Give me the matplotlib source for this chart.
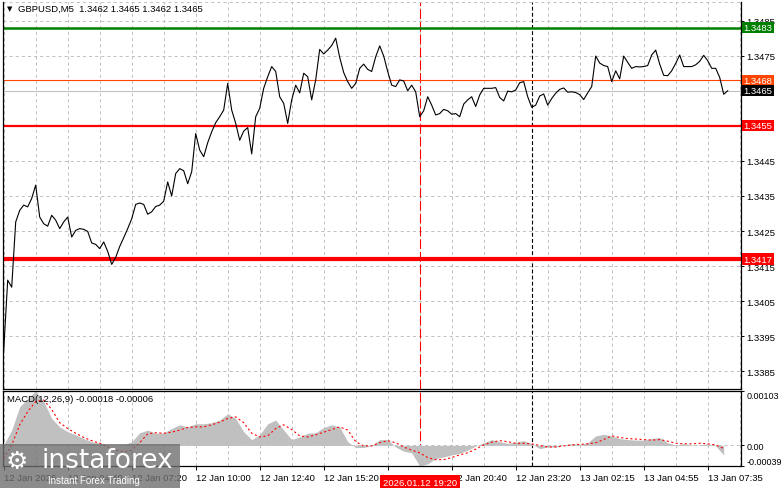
import numpy as np
import matplotlib
matplotlib.use("Agg")
import matplotlib.pyplot as plt
import matplotlib.transforms as mtransforms

plt.rcParams["font.family"] = ["Liberation Sans", "DejaVu Sans"]
plt.rcParams["lines.scale_dashes"] = False

symbol_title = "GBPUSD,M5  1.3462 1.3465 1.3462 1.3465"
macd_title = "MACD(12,26,9) -0.00018 -0.00006"

# closes, one every 10 minutes starting 12 Jan 02:00 (two M5 bars per value)
close = [
    1.33910, 1.34110, 1.34090, 1.34276, 1.34309, 1.34324, 1.34319, 1.34343, 1.34381, 1.34290,
    1.34271, 1.34264, 1.34295, 1.34281, 1.34257, 1.34276, 1.34290, 1.34233, 1.34252, 1.34257,
    1.34255, 1.34249, 1.34216, 1.34212, 1.34200, 1.34219, 1.34192, 1.34155, 1.34175, 1.34206,
    1.34231, 1.34257, 1.34285, 1.34326, 1.34330, 1.34326, 1.34298, 1.34305, 1.34320, 1.34324,
    1.34335, 1.34390, 1.34350, 1.34414, 1.34428, 1.34422, 1.34385, 1.34419, 1.34528, 1.34481,
    1.34462, 1.34502, 1.34533, 1.34559, 1.34576, 1.34595, 1.34671, 1.34595, 1.34557, 1.34509,
    1.34535, 1.34545, 1.34470, 1.34576, 1.34600, 1.34657, 1.34690, 1.34719, 1.34705, 1.34633,
    1.34614, 1.34557, 1.34624, 1.34666, 1.34644, 1.34700, 1.34690, 1.34624, 1.34681, 1.34768,
    1.34755, 1.34766, 1.34779, 1.34800, 1.34745, 1.34702, 1.34676, 1.34657, 1.34671, 1.34714,
    1.34726, 1.34711, 1.34705, 1.34747, 1.34778, 1.34749, 1.34705, 1.34666, 1.34662, 1.34681,
    1.34678, 1.34650, 1.34666, 1.34647, 1.34576, 1.34593, 1.34633, 1.34609, 1.34581, 1.34585,
    1.34597, 1.34593, 1.34583, 1.34585, 1.34576, 1.34612, 1.34624, 1.34633, 1.34605, 1.34638,
    1.34657, 1.34657, 1.34657, 1.34659, 1.34631, 1.34621, 1.34649, 1.34647, 1.34652, 1.34673,
    1.34676, 1.34633, 1.34603, 1.34609, 1.34635, 1.34641, 1.34609, 1.34628, 1.34643, 1.34654,
    1.34658, 1.34646, 1.34647, 1.34645, 1.34639, 1.34625, 1.34644, 1.34662, 1.34749, 1.34729,
    1.34722, 1.34719, 1.34676, 1.34707, 1.34684, 1.34749, 1.34731, 1.34714, 1.34719, 1.34718,
    1.34719, 1.34722, 1.34752, 1.34766, 1.34726, 1.34694, 1.34693, 1.34707, 1.34728, 1.34752,
    1.34719, 1.34719, 1.34719, 1.34724, 1.34734, 1.34751, 1.34736, 1.34714, 1.34714, 1.34688,
    1.34640, 1.34650,
]

# MACD main (histogram) and signal, one every 20 minutes
macd_main = [
    0.00001, 0.00029, 0.00073, 0.00089, 0.00103, 0.00083, 0.00051, 0.00035, 0.00026, 0.00020,
    0.00013, 0.00007, 0.00004, 0.00001, 0.00000, 0.00001, 0.00007, 0.00024, 0.00029, 0.00023,
    0.00024, 0.00032, 0.00039, 0.00035, 0.00041, 0.00041, 0.00043, 0.00048, 0.00060, 0.00051,
    0.00026, 0.00011, 0.00020, 0.00041, 0.00048, 0.00029, 0.00011, 0.00016, 0.00023, 0.00024,
    0.00034, 0.00039, 0.00035, 0.00007, -0.00004, -0.00004, 0.00000, 0.00011, 0.00011, -0.00003,
    -0.00011, -0.00014, -0.00039, -0.00035, -0.00025, -0.00022, -0.00018, -0.00015, -0.00009, -0.00001,
    0.00005, 0.00011, 0.00007, 0.00004, 0.00006, 0.00009, 0.00003, -0.00006, -0.00003, -0.00003,
    0.00001, 0.00003, 0.00002, 0.00005, 0.00018, 0.00021, 0.00018, 0.00013, 0.00011, 0.00010,
    0.00010, 0.00013, 0.00015, 0.00005, 0.00001, 0.00003, 0.00001, 0.00001, 0.00003, -0.00001,
    -0.00018,
]
macd_signal = [
    -0.00025, 0.00001, 0.00039, 0.00064, 0.00083, 0.00086, 0.00068, 0.00043, 0.00032, 0.00023,
    0.00015, 0.00009, 0.00004, -0.00003, -0.00009, -0.00012, -0.00009, 0.00005, 0.00022, 0.00024,
    0.00023, 0.00025, 0.00029, 0.00034, 0.00035, 0.00035, 0.00039, 0.00044, 0.00051, 0.00054,
    0.00043, 0.00023, 0.00016, 0.00018, 0.00032, 0.00039, 0.00030, 0.00018, 0.00016, 0.00020,
    0.00025, 0.00030, 0.00035, 0.00029, 0.00007, -0.00001, -0.00001, 0.00005, 0.00009, 0.00005,
    -0.00003, -0.00009, -0.00014, -0.00023, -0.00027, -0.00027, -0.00023, -0.00018, -0.00014, -0.00007,
    0.00001, 0.00006, 0.00009, 0.00007, 0.00004, 0.00004, 0.00003, 0.00000, -0.00003, -0.00003,
    -0.00001, 0.00001, 0.00002, 0.00003, 0.00005, 0.00011, 0.00018, 0.00015, 0.00013, 0.00012,
    0.00011, 0.00010, 0.00011, 0.00008, 0.00004, 0.00003, 0.00003, 0.00004, 0.00003, 0.00001,
    -0.00006,
]

time_labels = ["12 Jan 2026", "12 Jan 04:40", "12 Jan 07:20", "12 Jan 10:00", "12 Jan 12:40",
               "12 Jan 15:20", "12 Jan 18:00", "12 Jan 20:40", "12 Jan 23:20", "13 Jan 02:15",
               "13 Jan 04:55", "13 Jan 07:35"]
price_ticks = [1.3385, 1.3395, 1.3405, 1.3415, 1.3425, 1.3435, 1.3445, 1.3455, 1.3465, 1.3475, 1.3485]

level_prices = [1.3483, 1.3468, 1.3455, 1.3417]
level_colors = ["#008000", "#ff4500", "#ff0000", "#ff0000"]
level_widths = [1.8, 0.8, 1.6, 3.0]
bid_price = 1.3465

cursor_bar = 208      # 12 Jan 19:20
day_break_bar = 264   # 13 Jan 00:00
cursor_text = "2026.01.12 19:20"

FS = 6.8
GRID = dict(color="#c0c0c0", lw=0.7, linestyle=(0, (2.2, 2.2)))

fig = plt.figure(figsize=(7.81, 4.89), dpi=100)
ax = fig.add_axes([3 / 781, 1 - 390 / 489, 738 / 781, 387 / 489])
ax2 = fig.add_axes([3 / 781, 1 - 467 / 489, 738 / 781, 75 / 489])

price_x = np.arange(len(close)) * 2
macd_x = np.arange(len(macd_main)) * 4

for a in (ax, ax2):
    a.set_xlim(-0.35, 368.65)
    a.set_xticks(np.arange(0, 369, 32))
    a.set_xticks(np.arange(16, 369, 32), minor=True)
    a.grid(True, axis="x", which="both", **GRID)
    a.set_axisbelow(True)
    a.yaxis.tick_right()
    a.tick_params(axis="y", direction="out", length=2.5, width=0.7, pad=1.2, labelsize=FS)
    a.tick_params(axis="x", which="minor", length=0)
    for s in a.spines.values():
        s.set_linewidth(0.9)
    a.axvline(cursor_bar, color="#ff0000", lw=0.8, linestyle=(0, (7, 2.2)), zorder=1)
    a.axvline(day_break_bar, color="black", lw=0.8, linestyle=(0, (2.8, 1.6)), zorder=1)

# price panel
ax.set_ylim(1.337997, 1.349031)
ax.set_yticks(price_ticks)
# 1.3455 and 1.3465 sit under the level boxes, as in the terminal
covered = [1.3455, 1.3465]
ax.set_yticklabels(["" if p in covered else f"{p:.4f}" for p in price_ticks])
ax.grid(True, axis="y", **GRID)
ax.axhline(1.349031, **GRID)
ax.spines["top"].set_visible(False)
ax.tick_params(axis="x", which="major", length=0, labelbottom=False)

ax.axhline(bid_price, color="#c0c0c0", lw=0.8, zorder=2)
for p, c, w in zip(level_prices, level_colors, level_widths):
    ax.axhline(p, color=c, lw=w, zorder=2)
ax.plot(price_x, close, color="black", lw=0.8, zorder=3)

trans = mtransforms.blended_transform_factory(ax.transAxes, ax.transData)
for p, c in zip(level_prices + [bid_price], level_colors + ["black"]):
    ax.text(1.0035, p, f"{p:.4f}", transform=trans, ha="left", va="center", fontsize=FS,
            color="white", clip_on=False, zorder=5,
            bbox=dict(boxstyle="square,pad=0.12", fc=c, ec="none"))

ax.text(0.006, 0.983, "\u25bc", transform=ax.transAxes, fontsize=5, ha="left", va="center",
        family=["DejaVu Sans"])
ax.text(0.021, 0.983, symbol_title, transform=ax.transAxes, fontsize=FS, ha="left", va="center")

# MACD panel
ax2.set_ylim(-0.00039, 0.00103)
ax2.set_yticks([0.00103, 0.0, -0.00039])
ax2.set_yticklabels(["0.00103", "0.00", "-0.00039"])
labs = ax2.get_yticklabels()
labs[0].set_va("top")
labs[2].set_va("bottom")
for lbl in labs:
    lbl.set_fontsize(6.5)
ax2.axhline(0, **GRID)
ax2.fill_between(macd_x, 0, macd_main, color="#c0c0c0", lw=0, zorder=2)
ax2.plot(macd_x, macd_signal, color="#ff0000", lw=0.8, linestyle=(0, (1.5, 1.8)), zorder=3)
ax2.text(0.006, 0.9, macd_title, transform=ax2.transAxes, fontsize=FS, ha="left", va="center")

ax2.set_xticklabels(time_labels)
ax2.tick_params(axis="x", which="major", length=3, width=0.7, pad=2, labelsize=FS)
for lbl in ax2.get_xticklabels():
    lbl.set_ha("left")

ctrans = mtransforms.blended_transform_factory(ax2.transData, ax2.transAxes)
ax2.text(cursor_bar, -0.155, cursor_text, transform=ctrans, ha="center", va="top",
         fontsize=FS, color="white", clip_on=False, zorder=6,
         bbox=dict(boxstyle="square,pad=0.3", fc="#ff0000", ec="none"))

# watermark
fig.patches.append(plt.Rectangle((0, 0), 180 / 781, 44 / 489, transform=fig.transFigure,
                                 fc="#6f6f6f", ec="none", alpha=0.8, zorder=10))
fig.text(6 / 781, 1 - 462 / 489, "\u2699", fontsize=18, color="white", ha="left", va="center",
         family=["DejaVu Sans"], zorder=11)
fig.text(42 / 781, 1 - 461 / 489, "instaforex", fontsize=19, color="white", ha="left",
         va="center", family=["DejaVu Sans"], zorder=11)
fig.text(48 / 781, 1 - 481 / 489, "Instant Forex Trading", fontsize=7, color="white", ha="left",
         va="center", zorder=11)

fig.savefig("out.png", dpi=100)
